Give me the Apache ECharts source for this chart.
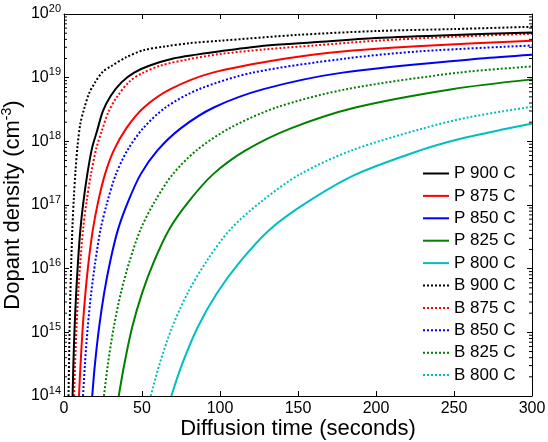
<!DOCTYPE html>
<html>
<head>
<meta charset="utf-8">
<script src="https://cdn.jsdelivr.net/npm/echarts@6/dist/echarts.min.js"></script>
<style>
  html, body { margin: 0; padding: 0; background: #fff; }
  #chart { width: 548px; height: 442px; }
</style>
</head>
<body>
<div id="chart"></div>
<script>
// tick labels
const xTicks = [0, 50, 100, 150, 200, 250, 300];
const yDecades = [14, 15, 16, 17, 18, 19, 20];

const seriesNames = ['P 900 C', 'P 875 C', 'P 850 C', 'P 825 C', 'P 800 C',
                     'B 900 C', 'B 875 C', 'B 850 C', 'B 825 C', 'B 800 C'];
const tempColors = ['#000000', '#ff0000', '#0000ff', '#008000', '#00bfbf'];

// [time (s), dopant density (cm^-3)]
const p900 = [[5.5,1e14],[6.0,3.1e14],[6.8,1.2e15],[7.8,4.1e15],[9.0,1.3e16],[10.5,4.1e16],[12.4,1.1e17],[14.9,3.0e17],[18.0,7.9e17],[21.0,1.4e18],[25.0,3.0e18],[30.0,5.2e18],[37.0,8.5e18],[45.0,1.2e19],[55.0,1.55e19],[70.0,2.0e19],[85.0,2.3e19],[100,2.6e19],[130,3.2e19],[160,3.6e19],[200,4.2e19],[250,4.7e19],[300,5.1e19]];
const p875 = [[9.6,1e14],[10.6,3.1e14],[12.0,1.2e15],[13.7,4.1e15],[15.8,1.3e16],[18.5,4.1e16],[21.8,1.1e17],[26.2,3.0e17],[31.9,7.2e17],[39.9,1.6e18],[51.2,3.4e18],[68.2,6.6e18],[95.3,1.2e19],[142.3,2.0e19],[180.2,2.6e19],[235.3,3.2e19],[300,3.8e19]];
const p850 = [[18.1,1e14],[19.8,3.1e14],[22.5,1.2e15],[25.7,4.1e15],[29.6,1.3e16],[34.6,4.1e16],[40.9,1.1e17],[49.0,3.0e17],[59.9,7.2e17],[74.8,1.6e18],[96.0,3.4e18],[127.9,6.6e18],[178.6,1.2e19],[266.8,2.0e19],[300,2.3e19]];
const p825 = [[35.1,1e14],[38.6,3.1e14],[43.7,1.2e15],[50.0,4.1e15],[57.7,1.3e16],[67.3,4.1e16],[79.5,1.1e17],[95.3,3.0e17],[116.4,7.2e17],[145.4,1.6e18],[186.8,3.4e18],[248.7,6.6e18],[300,9.4e18]];
const p800 = [[68.8,1e14],[75.6,3.1e14],[85.7,1.2e15],[98.0,4.1e15],[113.0,1.3e16],[131.8,4.1e16],[155.7,1.1e17],[186.8,3.0e17],[228.2,7.2e17],[254.2,1.1e18],[285.0,1.6e18],[300,1.9e18]];
const b900 = [[2.9,1e14],[3.2,3.1e14],[3.6,1.2e15],[4.1,4.1e15],[4.7,1.4e16],[5.4,4.5e16],[6.3,1.3e17],[7.4,3.5e17],[8.7,8.5e17],[10.5,1.9e18],[13.0,3.3e18],[16.0,5.6e18],[20.0,8.5e18],[25.0,1.25e19],[30.0,1.5e19],[40.0,2.1e19],[51.0,2.7e19],[65.0,3.1e19],[81.0,3.5e19],[100,3.8e19],[150,4.7e19],[200,5.4e19],[250,5.8e19],[300,6.3e19]];
const b875 = [[6.5,1e14],[7.1,3.2e14],[8.0,1.2e15],[9.1,4.1e15],[10.5,1.3e16],[12.2,4.1e16],[14.4,1.1e17],[17.2,3.0e17],[20.8,7.9e17],[24.0,1.4e18],[28.5,2.9e18],[34.0,5.0e18],[42.0,8.7e18],[50.0,1.17e19],[62.0,1.55e19],[80.0,1.95e19],[100,2.35e19],[130,2.8e19],[160,3.2e19],[200,3.8e19],[250,4.4e19],[300,4.9e19]];
const b850 = [[12.2,1e14],[13.4,3.1e14],[15.2,1.2e15],[17.4,4.1e15],[20.1,1.3e16],[23.4,4.1e16],[27.7,1.1e17],[33.2,3.0e17],[40.6,7.2e17],[50.7,1.6e18],[65.1,3.4e18],[86.6,6.6e18],[121.0,1.2e19],[180.7,2.0e19],[228.8,2.6e19],[300,3.2e19]];
const b825 = [[25.6,1e14],[28.1,3.1e14],[31.9,1.2e15],[36.4,4.1e15],[42.0,1.3e16],[49.0,4.1e16],[57.9,1.1e17],[69.5,3.0e17],[84.9,7.2e17],[106.0,1.6e18],[136.1,3.4e18],[181.2,6.6e18],[253.1,1.2e19],[300,1.5e19]];
const b800 = [[55.6,1e14],[61.1,3.1e14],[69.3,1.2e15],[79.2,4.1e15],[91.3,1.3e16],[106.5,4.1e16],[125.8,1.1e17],[150.9,3.0e17],[184.4,7.2e17],[230.3,1.6e18],[260.0,2.4e18],[300,3.5e18]];

const seriesData = [p900, p875, p850, p825, p800, b900, b875, b850, b825, b800];

const FONT = '"Liberation Sans", Arial, Helvetica, sans-serif';

// minor ticks at 2..9 x 10^n, placed on the y axis scale
const minorTicks = [];
yDecades.slice(0, -1).forEach(d => {
  for (let k = 2; k <= 9; k++) minorTicks.push([0, k * Math.pow(10, d)]);
});

const chart = echarts.init(document.getElementById('chart'), null, { renderer: 'canvas' });

const lineSeries = seriesData.map((data, i) => ({
  name: seriesNames[i],
  type: 'line',
  data: data,
  showSymbol: false,
  symbol: 'none',
  smooth: 0.3,
  clip: true,
  lineStyle: {
    color: tempColors[i % 5],
    width: 2,
    type: i < 5 ? 'solid' : [2, 2]
  },
  itemStyle: { color: tempColors[i % 5] },
  z: i < 5 ? 3 : 2
}));

const axisCommon = {
  axisLine: { show: true, onZero: false, lineStyle: { color: '#000', width: 1 } },
  axisTick: { show: true, inside: true, length: 5, lineStyle: { color: '#000' } },
  splitLine: { show: false },
  nameMoveOverlap: false
};

const option = {
  animation: false,
  grid: { left: 64, right: 16, top: 14, bottom: 46, containLabel: false, outerBoundsMode: 'none' },
  xAxis: [
    Object.assign({}, axisCommon, {
      type: 'value', min: 0, max: 300, interval: 50,
      name: 'Diffusion time (seconds)',
      nameLocation: 'middle', nameGap: 22,
      nameTextStyle: { fontFamily: FONT, fontSize: 22, color: '#000' },
      axisLabel: { fontFamily: FONT, fontSize: 16, color: '#000', margin: 5,
                   formatter: v => xTicks.includes(v) ? String(v) : '' }
    }),
    Object.assign({}, axisCommon, {
      type: 'value', min: 0, max: 300, interval: 50, position: 'top',
      axisLabel: { show: false }
    })
  ],
  yAxis: [
    Object.assign({}, axisCommon, {
      type: 'log', logBase: 10, min: 1e14, max: 1e20, interval: 1,
      name: 'Dopant density (cm{sup|-3})',
      nameLocation: 'middle', nameGap: 38,
      nameTextStyle: {
        fontFamily: FONT, fontSize: 22, color: '#000', lineHeight: 26,
        rich: { sup: { fontFamily: FONT, fontSize: 14, lineHeight: 14, verticalAlign: 'top', color: '#000' } }
      },
      axisLabel: {
        margin: 3,
        formatter: v => '{b|10}{s|' + Math.round(Math.log10(v)) + '}',
        rich: {
          b: { fontFamily: FONT, fontSize: 16, lineHeight: 22, verticalAlign: 'middle', color: '#000' },
          s: { fontFamily: FONT, fontSize: 11, lineHeight: 11, verticalAlign: 'top', color: '#000' }
        }
      }
    }),
    Object.assign({}, axisCommon, {
      type: 'log', logBase: 10, min: 1e14, max: 1e20, interval: 1, position: 'right',
      axisLabel: { show: false }
    })
  ],
  legend: {
    data: seriesNames,
    orient: 'vertical',
    left: 417,
    top: 160,
    itemWidth: 26,
    itemHeight: 14,
    itemGap: 5.4,
    itemStyle: { opacity: 0 },
    textStyle: { fontFamily: FONT, fontSize: 17, lineHeight: 17, color: '#000' },
    selectedMode: false
  },
  series: lineSeries.concat([{
    type: 'custom',
    silent: true,
    data: minorTicks,
    z: 5,
    renderItem: (params, api) => {
      const left = api.coord([0, api.value(1)]);
      const right = api.coord([300, api.value(1)]);
      const style = { stroke: '#000', lineWidth: 1 };
      return {
        type: 'group',
        children: [
          { type: 'line', shape: { x1: left[0], y1: left[1], x2: left[0] + 3, y2: left[1] }, style: style },
          { type: 'line', shape: { x1: right[0] - 3, y1: right[1], x2: right[0], y2: right[1] }, style: style }
        ]
      };
    }
  }])
};

chart.setOption(option);
</script>
</body>
</html>
